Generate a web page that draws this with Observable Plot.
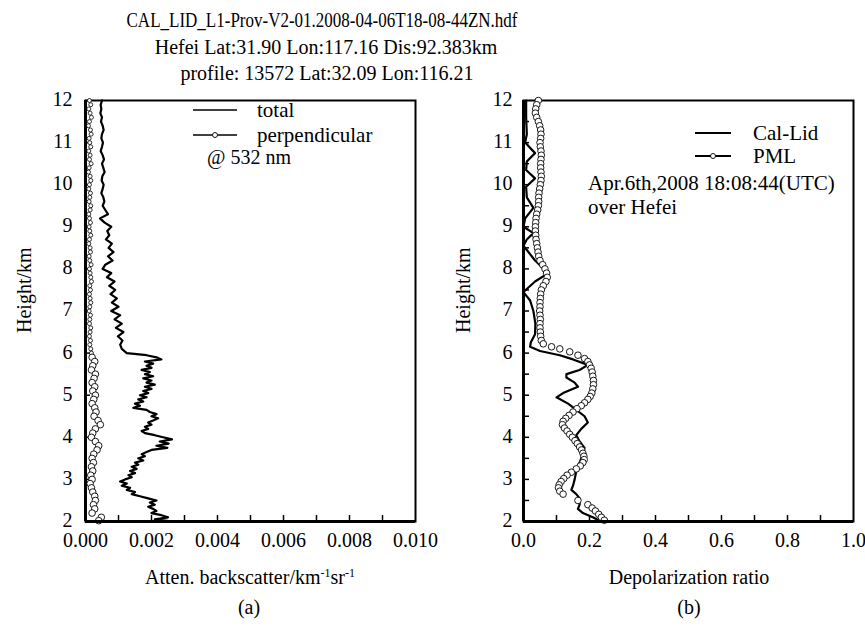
<!DOCTYPE html>
<html><head><meta charset="utf-8">
<script src="https://cdn.jsdelivr.net/npm/d3@7"></script>
<script src="https://cdn.jsdelivr.net/npm/@observablehq/plot@0.6"></script>
<style>
body{margin:0;background:#fff;}
#wrap{position:relative;width:865px;height:628px;overflow:hidden;background:#fff;font-family:"Liberation Serif","Tinos","Times New Roman","DejaVu Serif",serif;color:#000;}
.t{position:absolute;white-space:nowrap;font-size:20px;line-height:1;transform:translate(-50%,-50%);}
.l{position:absolute;white-space:nowrap;font-size:21px;line-height:1;transform:translate(0,-50%);}
.t sup{font-size:12px;vertical-align:7px;line-height:0;}
#plotA,#plotB{position:absolute;top:90px;}
#plotA{left:0;} #plotB{left:430px;}
svg.ov{position:absolute;left:0;top:0;}
</style></head>
<body><div id="wrap">
<div class="t" style="left:322px;top:20px;transform:translate(-50%,-50%) scaleX(0.85)">CAL_LID_L1-Prov-V2-01.2008-04-06T18-08-44ZN.hdf</div>
<div class="t" style="left:326px;top:47px">Hefei Lat:31.90 Lon:117.16 Dis:92.383km</div>
<div class="t" style="left:327px;top:73px">profile: 13572 Lat:32.09 Lon:116.21</div>
<div id="plotA"></div><div id="plotB"></div>
<div class="t" style="left:250px;top:577px">Atten. backscatter/km<sup>-1</sup>sr<sup>-1</sup></div>
<div class="t" style="left:249px;top:607px">(a)</div>
<div class="t" style="left:689px;top:577px">Depolarization ratio</div>
<div class="t" style="left:689px;top:607px">(b)</div>
<svg class="ov" width="865" height="628">
  <line x1="193" x2="237" y1="110" y2="110" stroke="#000" stroke-width="1.5"/>
  <line x1="193" x2="237" y1="135" y2="135" stroke="#000" stroke-width="1.5"/>
  <circle cx="215" cy="135" r="2.5" fill="#fff" stroke="#000" stroke-width="0.9"/>
  <line x1="695" x2="731" y1="133" y2="133" stroke="#000" stroke-width="2"/>
  <line x1="695" x2="731" y1="156" y2="156" stroke="#000" stroke-width="2"/>
  <circle cx="713" cy="156" r="2.5" fill="#fff" stroke="#000" stroke-width="0.9"/>
</svg>
<div class="l" style="left:257px;top:110px">total</div>
<div class="l" style="left:257px;top:135px">perpendicular</div>
<div class="l" style="left:207px;top:157px;font-size:20px">@ 532 nm</div>
<div class="l" style="left:753px;top:133px">Cal-Lid</div>
<div class="l" style="left:753px;top:156px">PML</div>
<div class="l" style="left:588px;top:183px">Apr.6th,2008 18:08:44(UTC)</div>
<div class="l" style="left:588px;top:207px">over Hefei</div>
</div>
<script>
const FONT = '"Liberation Serif","Tinos","Times New Roman","DejaVu Serif",serif';
// ---- panel (a) ----
const xTicksA = [0, 0.002, 0.004, 0.006, 0.008, 0.010];
const xMinorA = [0.001, 0.002, 0.003, 0.004, 0.005, 0.006, 0.007, 0.008, 0.009];
const yTicks = [2, 3, 4, 5, 6, 7, 8, 9, 10, 11, 12];
const yMinorB = [2.5, 3, 3.5, 4, 4.5, 5, 5.5, 6, 6.5, 7, 7.5, 8, 8.5, 9, 9.5, 10, 10.5, 11, 11.5];
const totalH = [12.0,11.9,11.8,11.7,11.6,11.5,11.4,11.3,11.2,11.1,11.0,10.9,10.8,10.7,10.6,10.5,10.4,10.3,10.2,10.1,10.0,9.9,9.8,9.7,9.6,9.5,9.4,9.3,9.2,9.1,9.0,8.9,8.8,8.7,8.6,8.5,8.4,8.3,8.2,8.1,8.0,7.9,7.8,7.7,7.6,7.5,7.4,7.3,7.2,7.1,7.0,6.9,6.8,6.7,6.6,6.5,6.4,6.3,6.2,6.1,
  6.00,5.95,5.90,5.85,5.80,5.75,5.70,5.65,5.60,5.55,5.50,5.45,5.40,5.35,5.30,5.25,5.20,5.15,5.10,5.05,5.00,4.95,4.90,4.85,4.80,4.75,4.70,4.65,4.60,4.55,4.50,4.45,4.40,4.35,4.30,4.25,4.20,4.15,4.10,4.05,4.00,3.95,3.90,3.85,3.80,3.75,3.70,3.65,3.60,3.55,3.50,3.45,3.40,3.35,3.30,3.25,3.20,3.15,3.10,3.05,3.00,2.95,2.90,2.85,2.80,2.75,2.70,2.65,2.60,2.55,2.50,2.45,2.40,2.35,2.30,2.25,2.20,2.15,2.10,2.05,2.00];
const totalV = [0.00050,0.00046,0.00048,0.00045,0.00050,0.00047,0.00052,0.00055,0.00050,0.00048,0.00053,0.00050,0.00046,0.00052,0.00056,0.00050,0.00054,0.00058,0.00051,0.00049,0.00055,0.00052,0.00048,0.00054,0.00057,0.00052,0.00060,0.00068,0.00044,0.00058,0.00078,0.00066,0.00072,0.00062,0.00080,0.00070,0.00085,0.00068,0.00082,0.00060,0.00052,0.00078,0.00065,0.00088,0.00072,0.00090,0.00076,0.00095,0.00080,0.00100,0.00078,0.00105,0.00088,0.00110,0.00092,0.00115,0.00098,0.00112,0.00105,0.00110,
  0.00125,0.00185,0.00215,0.00230,0.00180,0.00205,0.00185,0.00200,0.00170,0.00195,0.00180,0.00205,0.00175,0.00200,0.00185,0.00210,0.00180,0.00200,0.00175,0.00190,0.00165,0.00185,0.00160,0.00175,0.00150,0.00165,0.00145,0.00185,0.00195,0.00215,0.00200,0.00220,0.00205,0.00190,0.00200,0.00180,0.00190,0.00170,0.00180,0.00210,0.00235,0.00262,0.00225,0.00252,0.00215,0.00248,0.00200,0.00185,0.00170,0.00180,0.00160,0.00175,0.00150,0.00160,0.00140,0.00155,0.00135,0.00150,0.00130,0.00140,0.00120,0.00105,0.00125,0.00110,0.00135,0.00125,0.00150,0.00140,0.00165,0.00190,0.00215,0.00195,0.00210,0.00190,0.00205,0.00215,0.00200,0.00230,0.00250,0.00210,0.00265];
const perpUpH = [12.0,11.9,11.8,11.7,11.6,11.5,11.4,11.3,11.2,11.1,11.0,10.9,10.8,10.7,10.6,10.5,10.4,10.3,10.2,10.1,10.0,9.9,9.8,9.7,9.6,9.5,9.4,9.3,9.2,9.1,9.0,8.9,8.8,8.7,8.6,8.5,8.4,8.3,8.2,8.1,8.0,7.9,7.8,7.7,7.6,7.5,7.4,7.3,7.2,7.1,7.0,6.9,6.8,6.7,6.6,6.5,6.4,6.3,6.2,6.1,6.0];
const perpUpV = [0.00012,0.00016,0.00010,0.00014,0.00018,0.00012,0.00009,0.00015,0.00017,0.00011,0.00013,0.00016,0.00010,0.00014,0.00012,0.00017,0.00011,0.00009,0.00014,0.00016,0.00012,0.00010,0.00015,0.00013,0.00011,0.00016,0.00014,0.00010,0.00012,0.00015,0.00011,0.00013,0.00016,0.00012,0.00010,0.00014,0.00015,0.00011,0.00013,0.00017,0.00012,0.00014,0.00016,0.00018,0.00013,0.00015,0.00012,0.00014,0.00016,0.00013,0.00011,0.00015,0.00013,0.00012,0.00016,0.00014,0.00012,0.00015,0.00013,0.00016,0.00018];
const perpLoH = [5.9,5.8,5.7,5.6,5.5,5.4,5.3,5.2,5.1,5.0,4.9,4.8,4.7,4.6,4.5,4.4,4.3,4.2,4.1,4.0,3.9,3.8,3.7,3.6,3.5,3.4,3.3,3.2,3.1,3.0,2.9,2.8,2.7,2.6,2.5,2.4,2.3,2.2,2.1,2.02];
const perpLoV = [0.00020,0.00028,0.00022,0.00018,0.00030,0.00026,0.00020,0.00028,0.00022,0.00030,0.00025,0.00020,0.00028,0.00032,0.00026,0.00038,0.00045,0.00030,0.00022,0.00018,0.00030,0.00040,0.00035,0.00025,0.00020,0.00024,0.00018,0.00022,0.00016,0.00020,0.00014,0.00018,0.00022,0.00028,0.00030,0.00024,0.00028,0.00020,0.00048,0.00040];
// ---- panel (b) ----
const xTicksB = [0, 0.2, 0.4, 0.6, 0.8, 1.0];
const xMinorB = [0.1,0.2,0.3,0.4,0.5,0.6,0.7,0.8,0.9];
const calH = [12.0,11.6,11.2,11.0,10.75,10.55,10.35,10.15,9.95,9.7,9.45,9.2,9.0,8.85,8.7,8.55,8.2,7.9,7.7,7.45,7.25,7.0,6.7,6.45,6.25,6.15,6.05,5.95,5.85,5.72,5.6,5.5,5.42,5.3,5.2,5.05,4.95,4.8,4.65,4.5,4.35,4.2,4.05,3.9,3.75,3.6,3.4,3.2,3.0,2.85,2.75,2.65,2.55,2.4,2.3,2.2,2.1,2.0];
const calV = [0.008,0.008,0.010,0.005,0.035,0.010,0.008,0.035,0.008,0.010,0.030,0.005,0.000,0.030,0.010,0.000,0.035,0.075,0.035,0.000,0.020,0.030,0.036,0.035,0.022,0.020,0.050,0.110,0.150,0.195,0.170,0.130,0.130,0.155,0.165,0.120,0.100,0.135,0.160,0.185,0.195,0.175,0.160,0.170,0.185,0.180,0.170,0.160,0.155,0.150,0.145,0.160,0.170,0.170,0.165,0.180,0.210,0.235];
const pmlH = [12.0,11.9,11.8,11.7,11.6,11.5,11.4,11.3,11.2,11.1,11.0,10.9,10.8,10.7,10.6,10.5,10.4,10.3,10.2,10.1,10.0,9.9,9.8,9.7,9.6,9.5,9.4,9.3,9.2,9.1,9.0,8.9,8.8,8.7,8.6,8.5,8.4,8.3,8.2,8.1,8.0,7.9,7.8,7.7,7.6,7.5,7.4,7.3,7.2,7.1,7.0,6.9,6.8,6.7,6.6,6.5,6.4,6.3,6.22,6.15,6.1,6.03,5.95,5.87,5.8,5.72,5.64,5.55,5.45,5.35,5.25,5.15,5.05,4.97,4.9,4.82,4.75,4.68,4.6,4.52,4.45,4.38,4.3,4.22,4.15,4.07,4.0,3.92,3.85,3.77,3.7,3.62,3.55,3.47,3.4,3.32,3.25,3.17,3.1,3.02,2.95,2.87,2.8,2.72,2.65,2.5,2.4,2.32,2.25,2.17,2.1,2.03];
const pmlV = [0.045,0.040,0.037,0.036,0.040,0.045,0.049,0.052,0.053,0.052,0.050,0.051,0.053,0.054,0.053,0.052,0.052,0.053,0.054,0.053,0.051,0.049,0.047,0.046,0.046,0.045,0.043,0.040,0.038,0.037,0.036,0.036,0.037,0.038,0.040,0.042,0.044,0.046,0.050,0.058,0.065,0.070,0.072,0.068,0.060,0.054,0.052,0.051,0.050,0.050,0.049,0.050,0.051,0.050,0.050,0.051,0.052,0.054,0.060,0.085,0.110,0.140,0.165,0.185,0.195,0.200,0.205,0.208,0.210,0.212,0.212,0.210,0.207,0.202,0.195,0.185,0.175,0.162,0.150,0.138,0.128,0.120,0.118,0.124,0.132,0.140,0.148,0.156,0.163,0.170,0.176,0.180,0.183,0.184,0.180,0.172,0.160,0.145,0.132,0.122,0.114,0.108,0.106,0.110,0.120,0.165,0.195,0.208,0.218,0.228,0.236,0.245];

const rows = (H, V) => H.map((h, i) => ({h, v: V[i]}));
const style = {fontFamily: FONT, fontSize: "20px", background: "transparent", overflow: "visible", color: "#000"};

const plotA = Plot.plot({
  width: 440, height: 470, marginLeft: 85, marginRight: 25, marginTop: 10, marginBottom: 39,
  style,
  x: {domain: [0, 0.010], ticks: xTicksA, tickFormat: d3.format(".3f"), tickSize: 0, tickPadding: 11, label: null},
  y: {domain: [2, 12], ticks: yTicks, tickSize: 0, tickPadding: 13, label: null},
  marks: [
    Plot.frame({stroke: "#000", strokeWidth: 2}),
    Plot.tickX(xMinorA, {x: d => d, insetTop: 415, stroke: "#000", strokeWidth: 1.5}),
    Plot.tickY(yTicks, {y: d => d, insetRight: 325, stroke: "#000", strokeWidth: 1.5}),
    Plot.line(rows(totalH, totalV), {x: "v", y: "h", stroke: "#000", strokeWidth: 2.2}),
    Plot.dot(rows(perpUpH, perpUpV), {x: "v", y: "h", r: 2, fill: "#fff", stroke: "#000", strokeWidth: 0.8}),
    Plot.dot(rows(perpLoH, perpLoV), {x: "v", y: "h", r: 3.3, fill: "#fff", stroke: "#000", strokeWidth: 0.9}),
    Plot.ruleX([0], {stroke: "#000", strokeWidth: 3}),
    Plot.ruleY([2], {stroke: "#000", strokeWidth: 3}),
    Plot.text(["Height/km"], {text: d => d, frameAnchor: "left", dx: -61, dy: 22, rotate: -90, fontSize: 20})
  ]
});
document.getElementById("plotA").append(plotA);

const plotB = Plot.plot({
  width: 435, height: 470, marginLeft: 93, marginRight: 12, marginTop: 10, marginBottom: 39,
  style,
  x: {domain: [0, 1.0], ticks: xTicksB, tickFormat: d3.format(".1f"), tickSize: 0, tickPadding: 11, label: null},
  y: {domain: [2, 12], ticks: yTicks, tickSize: 0, tickPadding: 11, label: null},
  marks: [
    Plot.frame({stroke: "#000", strokeWidth: 2}),
    Plot.tickX(xMinorB, {x: d => d, insetTop: 415, stroke: "#000", strokeWidth: 1.5}),
    Plot.tickY(yMinorB, {y: d => d, insetRight: 324, stroke: "#000", strokeWidth: 1.5}),
    Plot.line(rows(calH, calV), {x: "v", y: "h", stroke: "#000", strokeWidth: 2.2}),
    Plot.dot(rows(pmlH, pmlV), {x: "v", y: "h", r: 3.3, fill: "#fff", stroke: "#000", strokeWidth: 0.9}),
    Plot.ruleX([0], {stroke: "#000", strokeWidth: 3}),
    Plot.ruleY([2], {stroke: "#000", strokeWidth: 3}),
    Plot.text(["Height/km"], {text: d => d, frameAnchor: "left", dx: -60, dy: 22, rotate: -90, fontSize: 20})
  ]
});
document.getElementById("plotB").append(plotB);

// nudge y tick labels slightly upward, as in the reference
for (const svg of [plotA, plotB]) {
  svg.querySelectorAll('g[aria-label="y-axis tick label"] text').forEach(t => {
    t.setAttribute("dy", "-0.05em");
  });
}
</script>
</body></html>
